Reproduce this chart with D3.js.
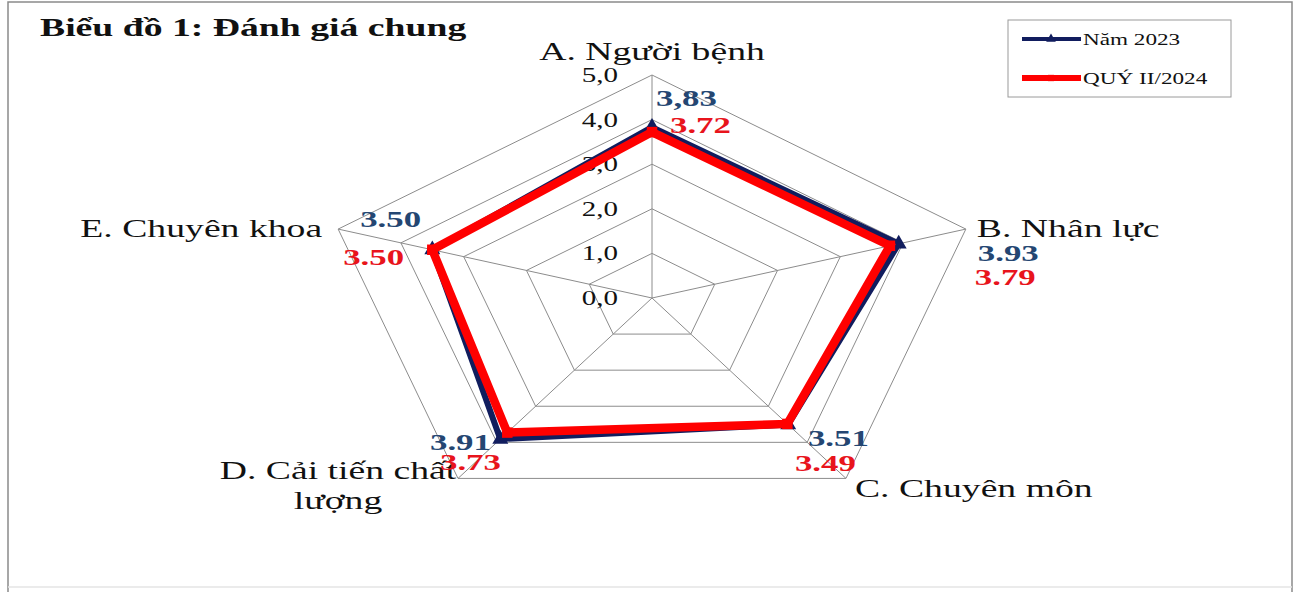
<!DOCTYPE html>
<html><head><meta charset="utf-8">
<script src="https://cdn.jsdelivr.net/npm/d3@7"></script>
<style>html,body{margin:0;padding:0;background:#fff;}svg{display:block;font-family:"Liberation Serif","Times New Roman",serif;}</style>
</head><body>
<svg id="chart" width="1301" height="592"></svg>
<script>
// ---- data ----
const categories = ["A. Người bệnh", "B. Nhân lực", "C. Chuyên môn", "D. Cải tiến chất\nlượng", "E. Chuyên khoa"];
const seriesNames = ["Năm 2023", "QUÝ II/2024"];
const values2023 = [3.83, 3.93, 3.51, 3.91, 3.50];
const valuesQ2 = [3.72, 3.79, 3.49, 3.73, 3.50];
const labels2023 = ["3,83", "3.93", "3.51", "3.91", "3.50"];
const labelsQ2 = ["3.72", "3.79", "3.49", "3.73", "3.50"];
const tickValues = [0, 1, 2, 3, 4, 5];
const tickLabels = ["0,0", "1,0", "2,0", "3,0", "4,0", "5,0"];
const title = "Biểu đồ 1: Đánh giá chung";

// ---- layout ----
const svg = d3.select("#chart");
const cx = 652, cy = 298, R = 223, SXG = 330 / 223, SX = 1.45;
const r = d3.scaleLinear().domain([0, 5]).range([0, R]);
const ang = d3.scalePoint().domain(d3.range(categories.length)).range([0, 2 * Math.PI * 4 / 5]);
const pt = (i, v) => [cx + SXG * r(v) * Math.sin(ang(i)), cy - r(v) * Math.cos(ang(i))];
const blue = "#111d5e", red = "#ff0000", blueTxt = "#244672", redTxt = "#e8141c";

function txt(x, y, s, opt) {
  opt = opt || {};
  return svg.append("text")
    .attr("transform", `translate(${x},${y}) scale(${SX},1)`)
    .attr("text-anchor", opt.anchor || "start")
    .attr("font-size", opt.size || 26)
    .attr("font-weight", opt.bold ? "bold" : "normal")
    .attr("fill", opt.fill || "#111")
    .text(s);
}

// frame
const fr = svg.append("g").attr("fill", "none").attr("stroke-width", 1.5);
fr.append("path").attr("d", "M8,592V2H1292V592").attr("stroke", "#8a8a8a");
fr.append("path").attr("d", "M8,587H1292").attr("stroke", "#e4e4e4");

// grid
const grid = svg.append("g").attr("fill", "none").attr("stroke", "#8c8c8c").attr("stroke-width", 1);
tickValues.filter(v => v > 0).forEach(v => {
  grid.append("path").attr("d", d3.line()(d3.range(categories.length).map(i => pt(i, v))) + "Z");
});
d3.range(categories.length).forEach(i => {
  grid.append("path").attr("d", d3.line()([pt(i, 0), pt(i, 5)]));
});

// tick labels
tickValues.forEach((v, k) => {
  txt(618, pt(0, v)[1] + 7, tickLabels[k], {anchor: "end", size: 20});
});

// series
const line = d3.line();
const ptsB = values2023.map((v, i) => pt(i, v));
const ptsR = valuesQ2.map((v, i) => pt(i, v));
svg.append("path").attr("d", line(ptsB) + "Z").attr("fill", "none").attr("stroke", blue)
  .attr("stroke-width", 6).attr("stroke-linejoin", "miter");
svg.selectAll(".mB").data(ptsB).enter().append("path")
  .attr("d", d3.symbol(d3.symbolTriangle, 110)())
  .attr("transform", d => `translate(${d[0]},${d[1]})`).attr("fill", blue);
svg.append("path").attr("d", line(ptsR) + "Z").attr("fill", "none").attr("stroke", red)
  .attr("stroke-width", 8.5).attr("stroke-linejoin", "miter");
svg.selectAll(".mR").data(ptsR).enter().append("path")
  .attr("d", d3.symbol(d3.symbolSquare, 110)())
  .attr("transform", d => `translate(${d[0]},${d[1]})`).attr("fill", red);

// category labels
const catPos = [
  {dx: 0, dy: -15, anchor: "middle"},
  {dx: 11, dy: 8, anchor: "start"},
  {dx: 9, dy: 19, anchor: "start"},
  {dx: -120, dy: 1, anchor: "middle"},
  {dx: -16, dy: 8, anchor: "end"}
];
categories.forEach((c, i) => {
  const p = pt(i, 5), o = catPos[i];
  c.split("\n").forEach((ln, j) => txt(p[0] + o.dx, p[1] + o.dy + j * 30, ln, {anchor: o.anchor, size: 26}));
});

// value labels
const offB = [[4, 31], [12, 32], [-38, -32], [-28, -28], [22, -2]];
const offR = [[18, 58], [9, 56], [-51, -7], [-18, -8], [5, 36]];
labels2023.forEach((s, i) => { const p = pt(i, 5); txt(p[0] + offB[i][0], p[1] + offB[i][1], s, {size: 24, bold: true, fill: blueTxt}); });
labelsQ2.forEach((s, i) => { const p = pt(i, 5); txt(p[0] + offR[i][0], p[1] + offR[i][1], s, {size: 24, bold: true, fill: redTxt}); });

// title
txt(40, 36, title, {size: 26, bold: true});

// legend
svg.append("rect").attr("x", 1008).attr("y", 20).attr("width", 223).attr("height", 77)
  .attr("fill", "#fff").attr("stroke", "#9a9a9a").attr("stroke-width", 1);
const legY = [39, 78];
const legCol = [blue, red], legW = [4, 6];
seriesNames.forEach((n, k) => {
  svg.append("line").attr("x1", 1022).attr("x2", 1081).attr("y1", legY[k]).attr("y2", legY[k])
    .attr("stroke", legCol[k]).attr("stroke-width", legW[k]);
  svg.append("path").attr("d", d3.symbol(k === 0 ? d3.symbolTriangle : d3.symbolSquare, 40)())
    .attr("transform", `translate(1051,${legY[k]})`).attr("fill", legCol[k]);
  txt(1083, legY[k] + 6, n, {size: 16});
});
</script>
</body></html>
